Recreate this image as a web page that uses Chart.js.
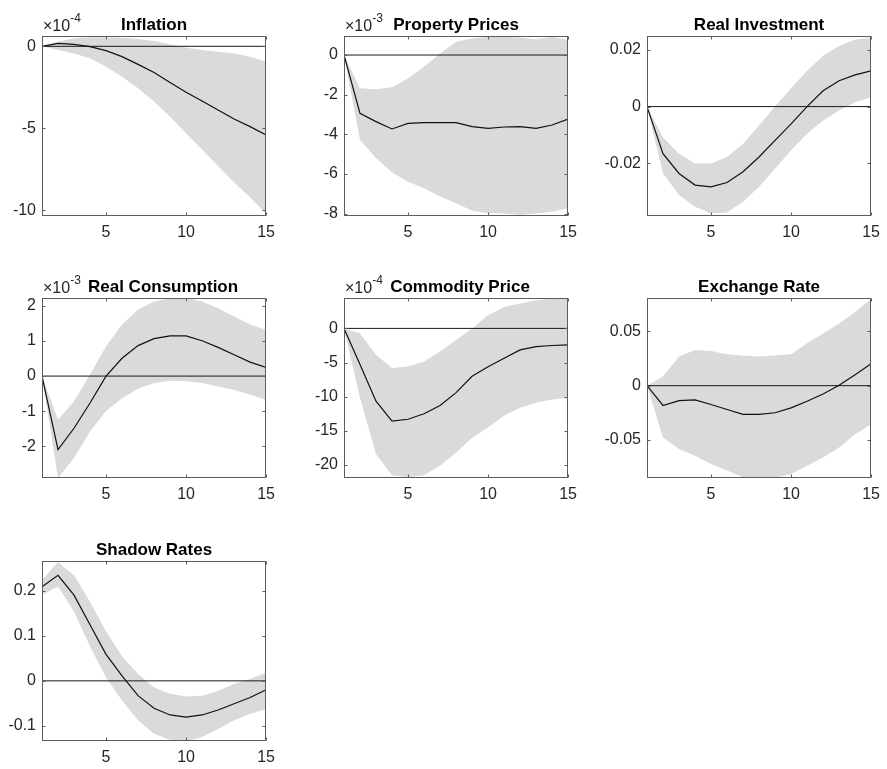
<!DOCTYPE html>
<html>
<head>
<meta charset="utf-8">
<script src="https://cdn.jsdelivr.net/npm/chart.js@4.4.1/dist/chart.umd.min.js"></script>
<style>
  html, body { margin: 0; padding: 0; background: #ffffff; }
  #wrap { position: relative; width: 887px; height: 769px; overflow: hidden; background: #ffffff; }
  .panel { position: absolute; }
</style>
</head>
<body>
<div id="wrap"></div>
<script>
// ---------------- DATA ----------------
const horizons = [1, 2, 3, 4, 5, 6, 7, 8, 9, 10, 11, 12, 13, 14, 15];
const xTickValues = [5, 10, 15];

const panelTitles = ['Inflation', 'Property Prices', 'Real Investment', 'Real Consumption',
                     'Commodity Price', 'Exchange Rate', 'Shadow Rates'];
const panelExponents = ['-4', '-3', null, '-3', '-4', null, null];

// Inflation (x 1e-4)
const inflationMedian = [0, 0.18, 0.12, -0.02, -0.26, -0.63, -1.1, -1.6, -2.2, -2.8, -3.33, -3.88, -4.43, -4.9, -5.4];
const inflationUpper  = [0, 0.28, 0.5, 0.55, 0.55, 0.53, 0.45, 0.33, 0.12, -0.08, -0.22, -0.33, -0.43, -0.63, -0.93];
const inflationLower  = [0, -0.22, -0.43, -0.73, -1.24, -1.85, -2.56, -3.37, -4.29, -5.3, -6.3, -7.3, -8.3, -9.2, -10.2];
const inflationTicks  = [-10, -5, 0];

// Property Prices (x 1e-3)
const propertyMedian = [0, -2.94, -3.36, -3.73, -3.45, -3.41, -3.41, -3.41, -3.61, -3.7, -3.63, -3.61, -3.7, -3.53, -3.23];
const propertyUpper  = [0, -1.68, -1.73, -1.63, -1.18, -0.59, 0.08, 0.67, 0.84, 0.92, 0.92, 0.89, 0.79, 0.92, 0.76];
const propertyLower  = [0, -4.29, -5.2, -5.93, -6.39, -6.72, -7.14, -7.48, -7.85, -7.98, -8.0, -8.07, -8.0, -7.9, -7.73];
const propertyTicks  = [-8, -6, -4, -2, 0];

// Real Investment
const investMedian = [0, -0.0166, -0.0236, -0.0277, -0.0283, -0.0268, -0.023, -0.0178, -0.0119, -0.0061, 0, 0.0056, 0.0091, 0.0112, 0.0126];
const investUpper  = [0, -0.0108, -0.0166, -0.0201, -0.0201, -0.0178, -0.0131, -0.0067, 0, 0.0065, 0.0126, 0.0179, 0.0214, 0.0237, 0.0243];
const investLower  = [0, -0.0236, -0.0312, -0.0353, -0.0377, -0.0374, -0.0336, -0.0283, -0.0219, -0.0154, -0.0096, -0.0049, -0.0014, 0.0015, 0.0033];
const investTicks  = [-0.02, 0, 0.02];

// Real Consumption (x 1e-3)
const consMedian = [0, -2.1, -1.49, -0.77, 0, 0.51, 0.87, 1.07, 1.15, 1.15, 1.01, 0.82, 0.61, 0.4, 0.25];
const consUpper  = [0, -1.25, -0.72, 0.04, 0.85, 1.47, 1.9, 2.13, 2.23, 2.23, 2.13, 1.94, 1.7, 1.47, 1.32];
const consLower  = [0, -2.91, -2.34, -1.58, -1.0, -0.63, -0.36, -0.2, -0.13, -0.15, -0.2, -0.3, -0.39, -0.53, -0.68];
const consTicks  = [-2, -1, 0, 1, 2];

// Commodity Price (x 1e-4)
const commMedian = [0, -5.3, -10.65, -13.56, -13.3, -12.5, -11.3, -9.4, -7.0, -5.6, -4.36, -3.15, -2.66, -2.5, -2.4];
const commUpper  = [0, -0.73, -3.87, -5.8, -5.57, -4.84, -3.39, -1.7, 0, 1.94, 3.15, 3.63, 4.12, 4.36, 4.36];
const commLower  = [0, -10.2, -18.4, -21.5, -21.8, -21.5, -20.1, -18.2, -16.0, -14.5, -12.8, -11.6, -10.9, -10.4, -10.2];
const commTicks  = [-20, -15, -10, -5, 0];

// Exchange Rate
const fxMedian = [0, -0.0182, -0.0137, -0.0131, -0.0173, -0.0219, -0.0264, -0.0264, -0.0249, -0.0204, -0.0143, -0.0076, 0.0003, 0.01, 0.0201];
const fxUpper  = [0, 0.0085, 0.0267, 0.0328, 0.0319, 0.0289, 0.0277, 0.0267, 0.0277, 0.0289, 0.0389, 0.048, 0.0571, 0.0678, 0.08];
const fxLower  = [0, -0.0477, -0.0584, -0.0644, -0.072, -0.0781, -0.0842, -0.0848, -0.0848, -0.0812, -0.0736, -0.066, -0.0568, -0.0447, -0.0356];
const fxTicks  = [-0.05, 0, 0.05];

// Shadow Rates
const shadowMedian = [0.2096, 0.235, 0.191, 0.125, 0.059, 0.011, -0.033, -0.061, -0.076, -0.081, -0.076, -0.065, -0.051, -0.037, -0.02];
const shadowUpper  = [0.224, 0.265, 0.235, 0.176, 0.11, 0.055, 0.015, -0.015, -0.029, -0.035, -0.033, -0.022, -0.007, 0.004, 0.018];
const shadowLower  = [0.191, 0.21, 0.154, 0.077, 0.007, -0.044, -0.088, -0.118, -0.131, -0.136, -0.125, -0.107, -0.088, -0.074, -0.0625];
const shadowTicks  = [-0.1, 0, 0.1, 0.2];

// axis limits (tight, as in the picture)
const yLimits = [[-10.35, 0.63], [-8.12, 0.96], [-0.0386, 0.0249], [-2.91, 2.23],
                 [-21.9, 4.45], [-0.0849, 0.0806], [-0.134, 0.267]];

// ---------------- LAYOUT / STYLE ----------------
const BOX_W = 228, BOX_H = 180;
const PAD_L = 70, PAD_T = 40, PAD_R = 12, PAD_B = 32;
const colLeft = [42, 344, 647];
const rowTop = [36, 298, 561];
const titleShift = [0, 0, 0, 9, 4, 0, 0];

const FONT = "'Liberation Sans', Arial, Helvetica, sans-serif";
const TICK_COLOR = '#262626';
const BOX_COLOR = '#5c5c5c';
const BAND_COLOR = '#dadada';

const matlabAxes = {
  id: 'matlabAxes',
  afterDatasetsDraw(chart, args, opts) {
    const ctx = chart.ctx, a = chart.chartArea;
    const xs = chart.scales.x, ys = chart.scales.y;
    ctx.save();
    ctx.strokeStyle = BOX_COLOR;
    ctx.lineWidth = 1;
    const L = Math.round(a.left) + 0.5, T = Math.round(a.top) + 0.5;
    const R = Math.round(a.right) - 0.5, B = Math.round(a.bottom) - 0.5;
    ctx.strokeRect(L, T, R - L, B - T);
    const tl = 3;
    ctx.beginPath();
    xs.ticks.forEach(t => {
      const px = Math.round(xs.getPixelForValue(t.value)) + 0.5;
      ctx.moveTo(px, B); ctx.lineTo(px, B - tl);
      ctx.moveTo(px, T); ctx.lineTo(px, T + tl);
    });
    ys.ticks.forEach(t => {
      const py = Math.round(ys.getPixelForValue(t.value)) + 0.5;
      ctx.moveTo(L, py); ctx.lineTo(L + tl, py);
      ctx.moveTo(R, py); ctx.lineTo(R - tl, py);
    });
    ctx.stroke();
    ctx.restore();
  },
  afterDraw(chart, args, opts) {
    const ctx = chart.ctx, a = chart.chartArea;
    ctx.save();
    ctx.fillStyle = '#000000';
    ctx.font = 'bold 17px ' + FONT;
    ctx.textAlign = 'center';
    ctx.textBaseline = 'alphabetic';
    ctx.fillText(opts.title, (a.left + a.right) / 2 + (opts.shift || 0), a.top - 6.5);
    if (opts.exponent) {
      ctx.fillStyle = TICK_COLOR;
      ctx.textAlign = 'left';
      ctx.font = '16px ' + FONT;
      const base = '\u00d710';
      ctx.fillText(base, a.left + 1, a.top - 5);
      const w = ctx.measureText(base).width;
      ctx.font = '12px ' + FONT;
      ctx.fillText(opts.exponent, a.left + 1 + w, a.top - 14);
    }
    ctx.restore();
  }
};

function makePanel(i, median, upper, lower, yTicks) {
  const col = i % 3, row = Math.floor(i / 3);
  const W = PAD_L + BOX_W + PAD_R, H = PAD_T + BOX_H + PAD_B;
  const div = document.createElement('div');
  div.className = 'panel';
  div.style.left = (colLeft[col] - PAD_L) + 'px';
  div.style.top = (rowTop[row] - PAD_T) + 'px';
  div.style.width = W + 'px';
  div.style.height = H + 'px';
  const cv = document.createElement('canvas');
  cv.width = W; cv.height = H;
  cv.style.width = W + 'px'; cv.style.height = H + 'px';
  div.appendChild(cv);
  document.getElementById('wrap').appendChild(div);

  const pts = arr => horizons.map((h, k) => ({ x: h, y: arr[k] }));

  new Chart(cv, {
    type: 'line',
    data: {
      datasets: [
        { label: 'upper', data: pts(upper), fill: '+1', backgroundColor: BAND_COLOR,
          borderWidth: 0, borderColor: 'rgba(0,0,0,0)', pointRadius: 0, tension: 0, order: 3 },
        { label: 'lower', data: pts(lower), fill: false,
          borderWidth: 0, borderColor: 'rgba(0,0,0,0)', pointRadius: 0, tension: 0, order: 2 },
        { label: 'zero', data: [{ x: horizons[0], y: 0 }, { x: horizons[horizons.length - 1], y: 0 }],
          fill: false, borderColor: '#1a1a1a', borderWidth: 1, pointRadius: 0, tension: 0, order: 1 },
        { label: 'median', data: pts(median), fill: false, borderColor: '#111111',
          borderWidth: 1.2, pointRadius: 0, tension: 0, order: 0 }
      ]
    },
    options: {
      responsive: false,
      animation: false,
      events: [],
      layout: { padding: { left: 0, top: PAD_T, right: PAD_R, bottom: 0 } },
      scales: {
        x: {
          type: 'linear', min: horizons[0], max: horizons[horizons.length - 1],
          grid: { display: false, drawTicks: false },
          border: { display: false },
          afterBuildTicks: s => { s.ticks = xTickValues.map(v => ({ value: v })); },
          afterFit: s => { s.height = PAD_B; },
          ticks: { color: TICK_COLOR, font: { family: FONT, size: 16 }, padding: 7,
                   maxRotation: 0, autoSkip: false, callback: v => String(v) }
        },
        y: {
          type: 'linear', min: yLimits[i][0], max: yLimits[i][1],
          grid: { display: false, drawTicks: false },
          border: { display: false },
          afterBuildTicks: s => { s.ticks = yTicks.map(v => ({ value: v })); },
          afterFit: s => { s.width = PAD_L; },
          ticks: { color: TICK_COLOR, font: { family: FONT, size: 16 }, padding: 6,
                   autoSkip: false, callback: v => String(v) }
        }
      },
      plugins: {
        legend: { display: false },
        tooltip: { enabled: false },
        title: { display: false },
        filler: { drawTime: 'beforeDatasetsDraw' },
        matlabAxes: { title: panelTitles[i], exponent: panelExponents[i], shift: titleShift[i] }
      }
    },
    plugins: [matlabAxes]
  });
}

makePanel(0, inflationMedian, inflationUpper, inflationLower, inflationTicks);
makePanel(1, propertyMedian, propertyUpper, propertyLower, propertyTicks);
makePanel(2, investMedian, investUpper, investLower, investTicks);
makePanel(3, consMedian, consUpper, consLower, consTicks);
makePanel(4, commMedian, commUpper, commLower, commTicks);
makePanel(5, fxMedian, fxUpper, fxLower, fxTicks);
makePanel(6, shadowMedian, shadowUpper, shadowLower, shadowTicks);
</script>
</body>
</html>
